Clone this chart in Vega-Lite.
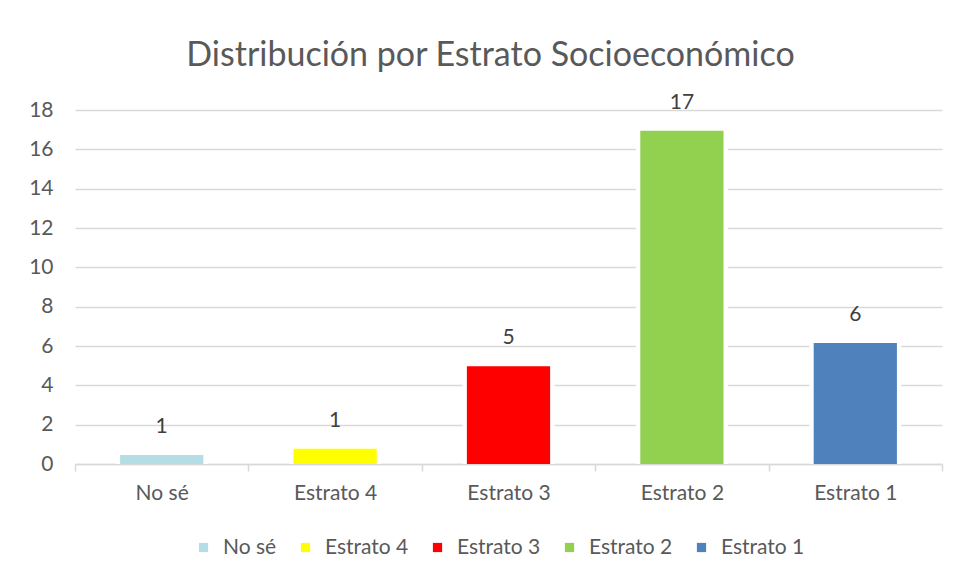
{
  "$schema": "https://vega.github.io/schema/vega-lite/v6.json",
  "width": 867,
  "height": 354,
  "autosize": {"type": "none"},
  "padding": {"left": 75, "top": 110, "right": 14, "bottom": 118},
  "background": "white",
  "title": {
    "text": "Distribución por Estrato Socioeconómico",
    "font": "Lato",
    "fontSize": 34,
    "fontWeight": "normal",
    "color": "#595959",
    "offset": 19,
    "frame": "group",
    "anchor": "middle",
    "dx": -18
  },
  "data": {
    "values": [
      {"estrato": "No sé", "valor": 0.46, "etiqueta": "1"},
      {"estrato": "Estrato 4", "valor": 0.77, "etiqueta": "1"},
      {"estrato": "Estrato 3", "valor": 4.97, "etiqueta": "5"},
      {"estrato": "Estrato 2", "valor": 16.95, "etiqueta": "17"},
      {"estrato": "Estrato 1", "valor": 6.15, "etiqueta": "6"}
    ]
  },
  "encoding": {
    "x": {
      "field": "estrato",
      "type": "nominal",
      "sort": null,
      "scale": {"paddingInner": 0, "paddingOuter": 0},
      "axis": {
        "title": null,
        "labelAngle": 0,
        "labelFont": "Lato",
        "labelFontSize": 21,
        "labelColor": "#595959",
        "labelPadding": 11,
        "domainColor": "#d9d9d9",
        "domainWidth": 1.5,
        "tickColor": "#d9d9d9",
        "tickWidth": 1.5,
        "tickSize": 7,
        "tickBand": "extent",
        "grid": false
      }
    },
    "y": {
      "field": "valor",
      "type": "quantitative",
      "scale": {"domain": [0, 18], "nice": false},
      "axis": {
        "title": null,
        "values": [0, 2, 4, 6, 8, 10, 12, 14, 16, 18],
        "domain": false,
        "ticks": false,
        "grid": true,
        "gridColor": "#d9d9d9",
        "gridWidth": 1.5,
        "labelFont": "Lato",
        "labelFontSize": 21,
        "labelColor": "#595959",
        "labelPadding": 22
      }
    }
  },
  "layer": [
    {"mark": {"type": "bar", "color": "white", "width": {"band": 0.53}}},
    {
      "mark": {"type": "bar", "width": {"band": 0.48}},
      "encoding": {
        "color": {
          "field": "estrato",
          "type": "nominal",
          "sort": null,
          "scale": {
            "domain": ["No sé", "Estrato 4", "Estrato 3", "Estrato 2", "Estrato 1"],
            "range": ["#B4DDE6", "#FFFF00", "#FF0000", "#92D050", "#4F81BD"]
          },
          "legend": {
            "title": null,
            "orient": "none",
            "legendX": 118,
            "legendY": 427,
            "direction": "horizontal",
            "gridAlign": "none",
            "symbolType": "square",
            "symbolSize": 85,
            "symbolStrokeWidth": 0,
            "labelFont": "Lato",
            "labelFontSize": 21,
            "labelColor": "#595959",
            "labelOffset": 9,
            "columnPadding": 18
          }
        }
      }
    },
    {
      "mark": {"type": "text", "baseline": "middle", "dy": -28, "font": "Lato", "fontSize": 21, "color": "#404040"},
      "encoding": {"text": {"field": "etiqueta"}}
    }
  ],
  "config": {"view": {"stroke": null}}
}
